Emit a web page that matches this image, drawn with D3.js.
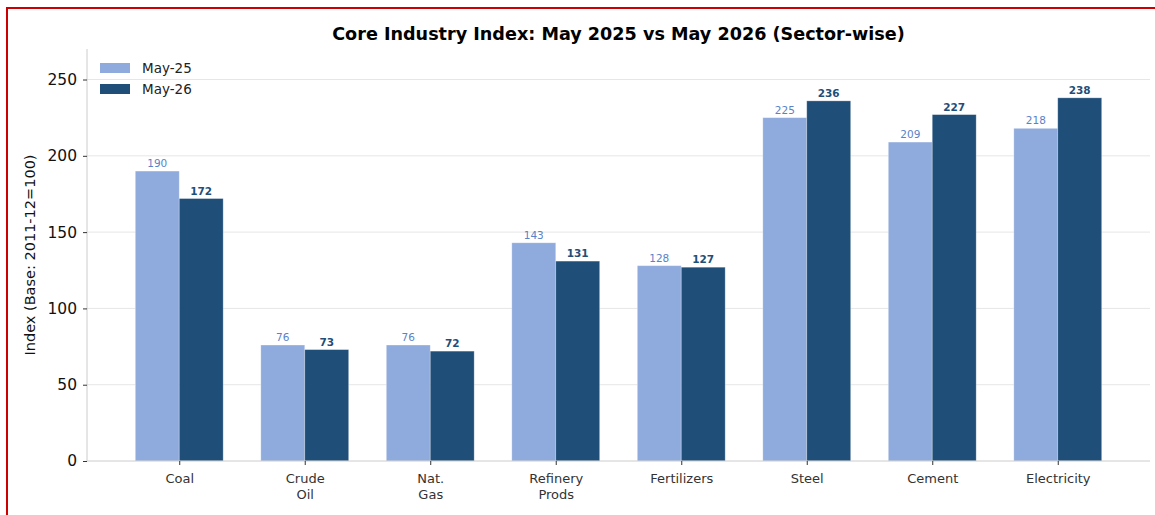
<!DOCTYPE html>
<html>
<head>
<meta charset="utf-8">
<script src="https://cdn.jsdelivr.net/npm/d3@7"></script>
<style>
  body { margin: 0; background: #fff; }
  svg { display: block; font-family: "DejaVu Sans", sans-serif; }
</style>
</head>
<body>
<svg id="chart" width="1155" height="515"></svg>
<script>
// sectors and index values
const sectors = [["Coal"], ["Crude", "Oil"], ["Nat.", "Gas"], ["Refinery", "Prods"], ["Fertilizers"], ["Steel"], ["Cement"], ["Electricity"]];
const may25 = [190, 76, 76, 143, 128, 225, 209, 218];
const may26 = [172, 73, 72, 131, 127, 236, 227, 238];
const yTicks = [0, 50, 100, 150, 200, 250];

const lightC = '#8faadc', darkC = '#1f4e79';

const svg = d3.select('#chart');
const pLeft = 87, pRight = 1150, pTop = 49, pBottom = 461;

// red frame
svg.append('rect')
    .attr('x', 7).attr('y', 8).attr('width', 1160).attr('height', 520)
    .attr('fill', 'none').attr('stroke', '#cc0000').attr('stroke-width', 2);

// index-based x like matplotlib, bar width 0.35
const x = d3.scaleLinear().domain([-0.735, sectors.length - 1 + 0.735]).range([pLeft, pRight]);
const y = d3.scaleLinear().domain([0, 270]).range([pBottom, pTop]);
const bw = 0.35;

// grid
svg.append('g').selectAll('line')
    .data(yTicks.filter(d => d > 0))
    .join('line')
    .attr('x1', pLeft).attr('x2', pRight)
    .attr('y1', d => y(d)).attr('y2', d => y(d))
    .attr('stroke', '#e6e6e6').attr('stroke-width', 1);

// bars
const bars = svg.append('g');
bars.selectAll('rect.a')
    .data(may25)
    .join('rect')
    .attr('class', 'a')
    .attr('x', (d, i) => x(i - bw))
    .attr('width', x(bw) - x(0))
    .attr('y', d => y(d))
    .attr('height', d => pBottom - y(d))
    .attr('fill', lightC).attr('stroke', '#fff').attr('stroke-opacity', 0.35).attr('stroke-width', 0.8);
bars.selectAll('rect.b')
    .data(may26)
    .join('rect')
    .attr('class', 'b')
    .attr('x', (d, i) => x(i))
    .attr('width', x(bw) - x(0))
    .attr('y', d => y(d))
    .attr('height', d => pBottom - y(d))
    .attr('fill', darkC).attr('stroke', '#fff').attr('stroke-opacity', 0.35).attr('stroke-width', 0.8);

// value labels
svg.append('g').selectAll('text')
    .data(may25)
    .join('text')
    .attr('x', (d, i) => x(i - bw / 2))
    .attr('y', d => y(d) - 4)
    .attr('text-anchor', 'middle')
    .attr('font-size', 10.5)
    .attr('fill', '#5a82c8')
    .text(d => d);
svg.append('g').selectAll('text')
    .data(may26)
    .join('text')
    .attr('x', (d, i) => x(i + bw / 2))
    .attr('y', d => y(d) - 4)
    .attr('text-anchor', 'middle')
    .attr('font-size', 10.5)
    .attr('font-weight', 'bold')
    .attr('fill', darkC)
    .text(d => d);

// y axis
const yAxis = svg.append('g')
    .attr('transform', `translate(${pLeft},0)`)
    .call(d3.axisLeft(y).tickValues(yTicks).tickSize(4).tickPadding(6));
yAxis.select('.domain').attr('stroke', '#cccccc').attr('d', `M0,${pTop}V${pBottom}`);
yAxis.selectAll('.tick line').attr('stroke', '#333');
yAxis.selectAll('.tick text').attr('font-size', 15.5).attr('fill', '#111').attr('font-family', 'DejaVu Sans');

// x axis
const xAxis = svg.append('g')
    .attr('transform', `translate(0,${pBottom})`)
    .call(d3.axisBottom(x).tickValues(d3.range(sectors.length)).tickSize(4).tickFormat(''));
xAxis.select('.domain').attr('stroke', '#cccccc').attr('d', `M${pLeft},0H${pRight}`);
xAxis.selectAll('.tick line').attr('stroke', '#333');
xAxis.selectAll('.tick').each(function(d) {
    const t = d3.select(this).append('text')
        .attr('fill', '#333').attr('font-size', 13).attr('text-anchor', 'middle')
        .attr('font-family', 'DejaVu Sans');
    sectors[d].forEach((s, k) => {
        t.append('tspan').attr('x', 0).attr('y', 22 + k * 16).text(s);
    });
});

// y label
svg.append('text')
    .attr('transform', `translate(35,${(pTop + pBottom) / 2}) rotate(-90)`)
    .attr('text-anchor', 'middle')
    .attr('font-size', 14.5)
    .attr('fill', '#111')
    .text('Index (Base: 2011-12=100)');

// title
svg.append('text')
    .attr('x', (pLeft + pRight) / 2).attr('y', 40)
    .attr('text-anchor', 'middle')
    .attr('font-size', 17.6).attr('font-weight', 'bold')
    .attr('fill', '#000')
    .text('Core Industry Index: May 2025 vs May 2026 (Sector-wise)');

// legend
const legend = svg.append('g').attr('transform', 'translate(100,63)');
[['May-25', lightC], ['May-26', darkC]].forEach(([name, c], i) => {
    legend.append('rect').attr('x', 0).attr('y', i * 21).attr('width', 30).attr('height', 10).attr('fill', c);
    legend.append('text').attr('x', 42).attr('y', i * 21 + 10).attr('font-size', 13.5).attr('fill', '#222').text(name);
});
</script>
</body>
</html>
